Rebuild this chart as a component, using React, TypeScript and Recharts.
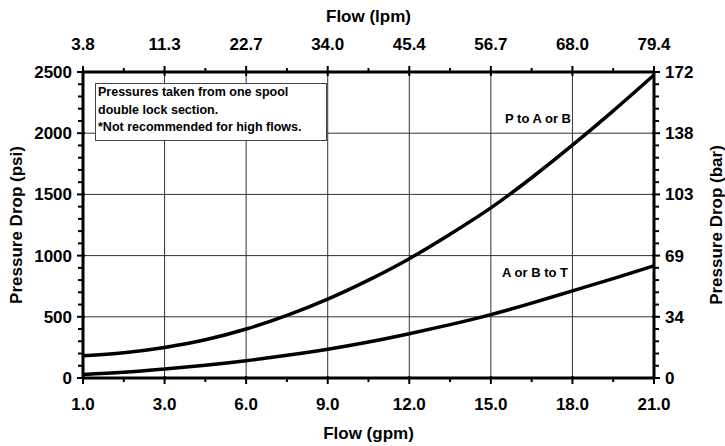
import React from "react";
import { LineChart, Line, XAxis, YAxis, CartesianGrid } from "recharts";

// flow position along the axis (evenly spaced tick stations)
const flowPos = [0, 1.5, 3, 4.5, 6, 7.5, 9, 10.5, 12, 13.5, 15, 16.5, 18, 19.5, 21];
const pToAorB = [182, 207, 250, 312, 400, 512, 645, 800, 975, 1175, 1390, 1636, 1902, 2182, 2475];
const aOrBtoT = [28, 46, 73, 104, 141, 185, 235, 294, 362, 436, 518, 612, 712, 812, 917];

const flowTicks = [0, 3, 6, 9, 12, 15, 18, 21];
const flowMinorTicks = [1.5, 4.5, 7.5, 10.5, 13.5, 16.5, 19.5];
const gpmLabels = ["1.0", "3.0", "6.0", "9.0", "12.0", "15.0", "18.0", "21.0"];
const lpmLabels = ["3.8", "11.3", "22.7", "34.0", "45.4", "56.7", "68.0", "79.4"];

const psiTicks = [0, 500, 1000, 1500, 2000, 2500];
const psiMinorTicks = [
  100, 200, 300, 400, 600, 700, 800, 900, 1100, 1200, 1300, 1400,
  1600, 1700, 1800, 1900, 2100, 2200, 2300, 2400,
];
const barLabels = ["0", "34", "69", "103", "138", "172"];

const data = flowPos.map((x, i) => ({ x, p: pToAorB[i], t: aOrBtoT[i] }));

const FONT = "'Liberation Sans', Arial, Helvetica, sans-serif";
const textStyle = { fontFamily: FONT, fontWeight: 700, fontSize: 17, fill: "#000" };
const allFlowTicks = [...flowTicks, ...flowMinorTicks].sort((a, b) => a - b);
const allPsiTicks = [...psiTicks, ...psiMinorTicks].sort((a, b) => a - b);

const BottomTick = ({ x, y, payload }: any) => {
  const i = flowTicks.indexOf(payload.value);
  if (i < 0) return <line x1={x} x2={x} y1={y} y2={y + 4} stroke="#000" strokeWidth={2} />;
  return (
    <g>
      <line x1={x} x2={x} y1={y - 2} y2={y + 6} stroke="#000" strokeWidth={2} />
      <text x={x} y={y + 32} textAnchor="middle" style={textStyle}>
        {gpmLabels[i]}
      </text>
    </g>
  );
};

const TopTick = ({ x, y, payload }: any) => {
  const i = flowTicks.indexOf(payload.value);
  if (i < 0) return <line x1={x} x2={x} y1={y} y2={y - 4} stroke="#000" strokeWidth={2} />;
  return (
    <g>
      <line x1={x} x2={x} y1={y + 4} y2={y - 6} stroke="#000" strokeWidth={2} />
      <text x={x} y={y - 22} textAnchor="middle" style={textStyle}>
        {lpmLabels[i]}
      </text>
    </g>
  );
};

const LeftTick = ({ x, y, payload }: any) => {
  const i = psiTicks.indexOf(payload.value);
  if (i < 0) return <line x1={x} x2={x - 5} y1={y} y2={y} stroke="#000" strokeWidth={2} />;
  return (
    <g>
      <line x1={x + 2} x2={x - 6} y1={y} y2={y} stroke="#000" strokeWidth={2} />
      <text x={x - 11} y={y + 6} textAnchor="end" style={textStyle}>
        {psiTicks[i]}
      </text>
    </g>
  );
};

const RightTick = ({ x, y, payload }: any) => {
  const i = psiTicks.indexOf(payload.value);
  if (i < 0) return <line x1={x} x2={x + 5} y1={y} y2={y} stroke="#000" strokeWidth={2} />;
  return (
    <g>
      <line x1={x - 2} x2={x + 6} y1={y} y2={y} stroke="#000" strokeWidth={2} />
      <text x={x + 11} y={y + 6} textAnchor="start" style={textStyle}>
        {barLabels[i]}
      </text>
    </g>
  );
};

const axisLine = { stroke: "#000", strokeWidth: 3 };

export default function App() {
  return (
    <div style={{ position: "absolute", left: 0, top: 0, width: 725, height: 446, background: "#fff" }}>
      <LineChart width={725} height={446} data={data} margin={{ top: 0, right: 0, bottom: 0, left: 0 }}>
        <CartesianGrid stroke="#333" strokeWidth={1} />
        <XAxis
          xAxisId="bottom"
          dataKey="x"
          type="number"
          orientation="bottom"
          domain={[0, 21]}
          ticks={allFlowTicks}
          interval={0}
          height={68}
          tickSize={0}
          tickMargin={0}
          tickLine={false}
          axisLine={axisLine}
          tick={<BottomTick />}
          label={({ viewBox }: any) => (
            <text x={viewBox.x + viewBox.width / 2} y={viewBox.y + viewBox.height - 7} textAnchor="middle" style={textStyle}>
              Flow (gpm)
            </text>
          )}
        />
        <XAxis
          xAxisId="top"
          dataKey="x"
          type="number"
          orientation="top"
          domain={[0, 21]}
          ticks={allFlowTicks}
          interval={0}
          height={72}
          tickSize={0}
          tickMargin={0}
          tickLine={false}
          axisLine={axisLine}
          tick={<TopTick />}
          label={({ viewBox }: any) => (
            <text x={viewBox.x + viewBox.width / 2} y={viewBox.y + 22} textAnchor="middle" style={textStyle}>
              Flow (lpm)
            </text>
          )}
        />
        <YAxis
          yAxisId="left"
          dataKey="p"
          type="number"
          orientation="left"
          domain={[0, 2500]}
          allowDataOverflow
          ticks={allPsiTicks}
          interval={0}
          width={83}
          tickSize={0}
          tickMargin={0}
          tickLine={false}
          axisLine={axisLine}
          tick={<LeftTick />}
          label={({ viewBox }: any) => {
            const cx = viewBox.x + 15.5;
            const cy = viewBox.y + viewBox.height / 2;
            return (
              <text x={cx} y={cy} dy={6} textAnchor="middle" transform={`rotate(-90 ${cx} ${cy})`} style={textStyle}>
                Pressure Drop (psi)
              </text>
            );
          }}
        />
        <YAxis
          yAxisId="right"
          dataKey="p"
          type="number"
          orientation="right"
          domain={[0, 2500]}
          allowDataOverflow
          ticks={allPsiTicks}
          interval={0}
          width={71}
          tickSize={0}
          tickMargin={0}
          tickLine={false}
          axisLine={axisLine}
          tick={<RightTick />}
          label={({ viewBox }: any) => {
            const cx = viewBox.x + 61.5;
            const cy = viewBox.y + viewBox.height / 2;
            return (
              <text x={cx} y={cy} dy={6} textAnchor="middle" transform={`rotate(-90 ${cx} ${cy})`} style={textStyle}>
                Pressure Drop (bar)
              </text>
            );
          }}
        />
        <XAxis dataKey="x" type="number" domain={[0, 21]} ticks={flowTicks} height={0} hide />
        <YAxis type="number" domain={[0, 2500]} ticks={psiTicks} width={0} hide />
        <Line dataKey="p" type="natural" stroke="#000" strokeWidth={3.5} dot={false} activeDot={false} isAnimationActive={false} />
        <Line dataKey="t" type="natural" stroke="#000" strokeWidth={3.5} dot={false} activeDot={false} isAnimationActive={false} />
      </LineChart>
      <div
        style={{
          position: "absolute",
          left: 95,
          top: 83,
          width: 228,
          height: 56,
          border: "1px solid #444",
          background: "#fff",
          fontFamily: FONT,
          fontWeight: 700,
          fontSize: 12.5,
          lineHeight: "17.5px",
          paddingLeft: 2,
          whiteSpace: "nowrap",
          boxSizing: "content-box",
        }}
      >
        Pressures taken from one spool
        <br />
        double lock section.
        <br />
        *Not recommended for high flows.
      </div>
      <div
        style={{
          position: "absolute",
          left: 504,
          top: 111,
          background: "#fff",
          fontFamily: FONT,
          fontWeight: 700,
          fontSize: 13,
          lineHeight: "16px",
          padding: "0 1px",
        }}
      >
        P to A or B
      </div>
      <div
        style={{
          position: "absolute",
          left: 501,
          top: 265,
          background: "#fff",
          fontFamily: FONT,
          fontWeight: 700,
          fontSize: 13,
          lineHeight: "16px",
          padding: "0 1px",
        }}
      >
        A or B to T
      </div>
    </div>
  );
}
